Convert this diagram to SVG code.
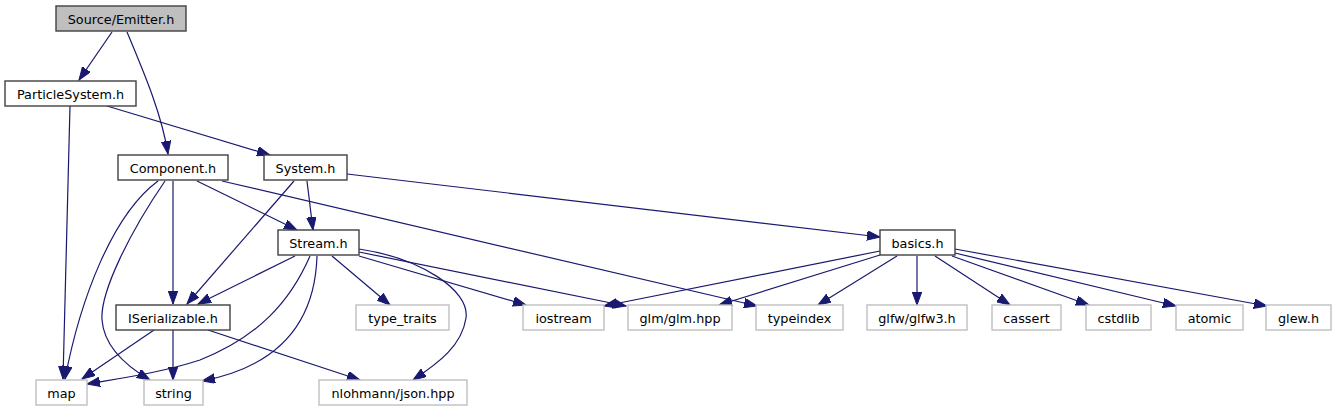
<svg xmlns="http://www.w3.org/2000/svg" width="1336" height="411" viewBox="0 0 1336 411">
<defs>
<marker id="ah" markerUnits="userSpaceOnUse" markerWidth="14" markerHeight="10" refX="13" refY="4.75" orient="auto">
<path d="M0,0 L13,4.75 L0,9.5 Z" fill="#191970" stroke="#191970" stroke-width="1"/>
</marker>
</defs>
<style>
rect{stroke-width:1.4}
.root rect{fill:#bfbfbf;stroke:#404040}
.doc rect{fill:#ffffff;stroke:#404040}
.ext rect{fill:#ffffff;stroke:#bfbfbf}
text{font-family:"DejaVu Sans","Liberation Sans",sans-serif;font-size:12.8px;fill:#000000;text-anchor:middle}
#edges path{fill:none;stroke:#191970;stroke-width:1.2;marker-end:url(#ah)}
</style>
<rect x="0" y="0" width="1336" height="411" fill="#ffffff"/>
<g id="edges">
<path d="M112,32 L79,80"/>
<path d="M127,32 C145,75 162,115 168,154"/>
<path d="M107,106 L270,155"/>
<path d="M70,106 L63,379"/>
<path d="M158,181 C112,215 80,300 65,379"/>
<path d="M165,181 C130,232 100,292 102,320 C104,346 126,366 150,380"/>
<path d="M173,181 L173,304"/>
<path d="M197,181 L297,230"/>
<path d="M222,181 L757,306"/>
<path d="M294,181 L187,304"/>
<path d="M307,181 L313,230"/>
<path d="M347,174 L880,237"/>
<path d="M295,256 L198,304"/>
<path d="M310,256 C290,302 258,337 200,360 C160,373 122,378 87,384"/>
<path d="M317,256 C315,322 280,366 202,381"/>
<path d="M332,256 L390,305"/>
<path d="M359,249 C420,258 470,290 466,318 C462,345 440,362 413,380"/>
<path d="M359,256 L526,305"/>
<path d="M359,252 L626,306"/>
<path d="M880,251 L604,306"/>
<path d="M880,255 L719,305"/>
<path d="M897,256 L818,305"/>
<path d="M917,256 L917,305"/>
<path d="M935,256 L1010,305"/>
<path d="M952,256 L1089,305"/>
<path d="M955,253 L1176,306"/>
<path d="M955,249 L1267,306"/>
<path d="M154,330 L82,379"/>
<path d="M173,330 L173,380"/>
<path d="M208,330 L360,380"/>
</g>
<g id="n_emitter" class="root"><rect x="56" y="6" width="130" height="25"/><text x="121" y="23.5">Source/Emitter.h</text></g>
<g id="n_particlesystem" class="doc"><rect x="5" y="81" width="131" height="25"/><text x="70.5" y="98.5">ParticleSystem.h</text></g>
<g id="n_component" class="doc"><rect x="118" y="155" width="110" height="25"/><text x="173" y="172.5">Component.h</text></g>
<g id="n_system" class="doc"><rect x="264" y="155" width="83" height="25"/><text x="305.5" y="172.5">System.h</text></g>
<g id="n_stream" class="doc"><rect x="278" y="230" width="81" height="25"/><text x="318.5" y="247.5">Stream.h</text></g>
<g id="n_basics" class="doc"><rect x="880" y="230" width="75" height="25"/><text x="917.5" y="247.5">basics.h</text></g>
<g id="n_iserializable" class="doc"><rect x="116" y="305" width="114" height="25"/><text x="173" y="322.5">ISerializable.h</text></g>
<g id="n_type_traits" class="ext"><rect x="356" y="305" width="93" height="25"/><text x="402.5" y="322.5">type_traits</text></g>
<g id="n_iostream" class="ext"><rect x="523" y="305" width="81" height="25"/><text x="563.5" y="322.5">iostream</text></g>
<g id="n_glm" class="ext"><rect x="628" y="305" width="104" height="25"/><text x="680" y="322.5">glm/glm.hpp</text></g>
<g id="n_typeindex" class="ext"><rect x="756" y="305" width="87" height="25"/><text x="799.5" y="322.5">typeindex</text></g>
<g id="n_glfw" class="ext"><rect x="867" y="305" width="100" height="25"/><text x="917" y="322.5">glfw/glfw3.h</text></g>
<g id="n_cassert" class="ext"><rect x="992" y="305" width="69" height="25"/><text x="1026.5" y="322.5">cassert</text></g>
<g id="n_cstdlib" class="ext"><rect x="1086" y="305" width="65" height="25"/><text x="1118.5" y="322.5">cstdlib</text></g>
<g id="n_atomic" class="ext"><rect x="1176" y="305" width="67" height="25"/><text x="1209.5" y="322.5">atomic</text></g>
<g id="n_glew" class="ext"><rect x="1266" y="305" width="65" height="25"/><text x="1298.5" y="322.5">glew.h</text></g>
<g id="n_map" class="ext"><rect x="36" y="380" width="51" height="25"/><text x="61.5" y="397.5">map</text></g>
<g id="n_string" class="ext"><rect x="144" y="380" width="59" height="25"/><text x="173.5" y="397.5">string</text></g>
<g id="n_json" class="ext"><rect x="319" y="380" width="148" height="25"/><text x="393" y="397.5">nlohmann/json.hpp</text></g>
</svg>
